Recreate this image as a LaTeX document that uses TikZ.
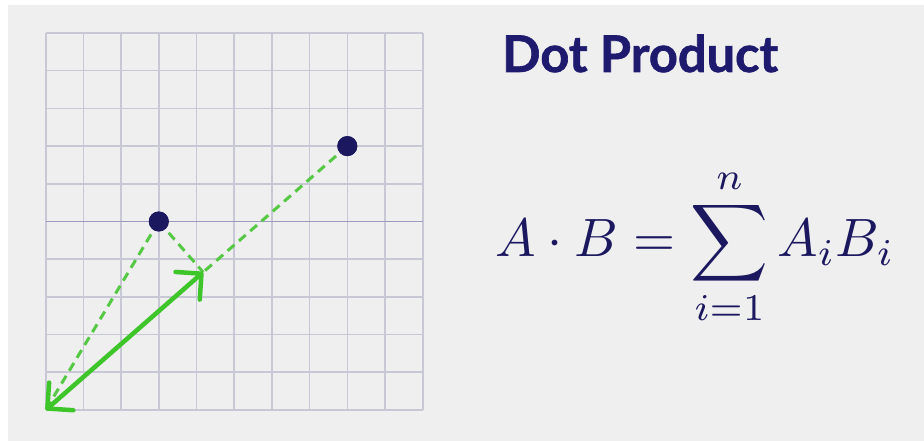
\documentclass[tikz,border=0pt]{standalone}
\usepackage{graphicx}
\usepackage{fontspec}
\newfontfamily\titlefont{Lato}[BoldFeatures={FakeBold=1.2}]
\usetikzlibrary{arrows.meta,calc}
\definecolor{bggray}{HTML}{EFEFEF}
\definecolor{gridc}{HTML}{C8C7D6}
\definecolor{gridd}{HTML}{9C9AC0}
\definecolor{navy}{HTML}{1C1860}
\definecolor{titlec}{HTML}{1E1A6E}
\definecolor{solidg}{HTML}{3EC52A}
\definecolor{dashg}{HTML}{55C844}
\tikzset{
  gridline/.style={draw=gridc, line width=1.6pt},
  axisline/.style={draw=gridd, line width=1.8pt},
  dotpt/.style={circle, fill=navy, inner sep=0pt, minimum size=20pt},
  dashline/.style={draw=dashg, line width=3pt, dash pattern=on 9pt off 6pt},
  vecline/.style={draw=solidg, line width=4.5pt, line cap=round,
    {Straight Barb[angle=90:26pt, round]}-{Straight Barb[angle=90:26pt, round]}},
}
\begin{document}
\begin{tikzpicture}[x=1pt,y=1pt]
\useasboundingbox (0,0) rectangle (924,441);
\fill[white] (0,0) rectangle (924,441);
\fill[bggray] (8,0) rectangle (924,436);
\begin{scope}[shift={(45.7pt,31pt)}, x=37.7pt, y=37.7pt]
  \foreach \i in {0,...,10} {
    \draw[gridline] (\i,0) -- (\i,10);
    \draw[gridline] (0,\i) -- (10,\i);
  }
  \draw[axisline] (0,5) -- (10,5);
  \coordinate (O) at (0,0);
  \node[dotpt] (A) at (3,5) {};
  \node[dotpt] (B) at (8,7) {};
  \coordinate (P) at (4.177,3.655);
  \draw[dashline] (A.center) -- (O);
  \draw[dashline] (A.center) -- (P);
  \draw[dashline] (B.center) -- (P);
  \node[dotpt] at (A) {};
  \node[dotpt] at (B) {};
  \draw[vecline] (O) -- (P);
\end{scope}
\node[anchor=base west, inner sep=0, text=titlec, font=\titlefont\bfseries\fontsize{50.5}{60}\selectfont] (title) at (502,369) {Dot Product};
\node[anchor=base west, inner sep=0, text=navy] (formula) at (495,184) {\scalebox{5.4}{$\displaystyle A\cdot B=\sum_{i=1}^{n}A_iB_i$}};
\end{tikzpicture}
\end{document}
